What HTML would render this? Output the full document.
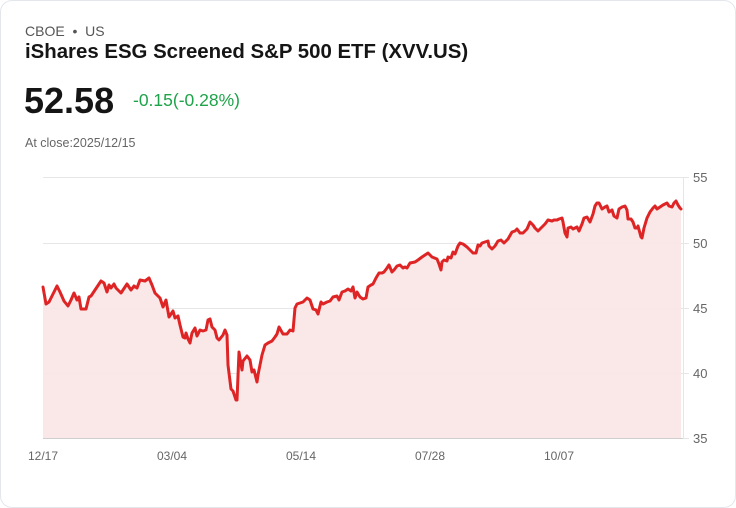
<!DOCTYPE html>
<html><head><meta charset="utf-8"><style>
html,body{margin:0;padding:0;background:#fff;}
body{width:736px;height:508px;overflow:hidden;font-family:"Liberation Sans",Arial,sans-serif;}
.card{position:absolute;left:0;top:0;width:734px;height:506px;border:1px solid #e3e6eb;border-radius:12px;background:#fff;}
.ex{position:absolute;left:25px;top:23px;font-size:14px;color:#555;}
.ttl{position:absolute;left:25px;top:41px;font-size:20.4px;font-weight:bold;color:#151515;}
.px{position:absolute;left:24px;top:80px;font-size:36px;font-weight:bold;color:#151515;}
.ch{position:absolute;left:133px;top:90px;font-size:17.5px;color:#1fa34a;}
.cl{position:absolute;left:25px;top:136px;font-size:12.5px;color:#666;}
svg{position:absolute;left:0;top:0;}
</style></head><body>
<div class="card"></div>
<div class="ex">CBOE &nbsp;•&nbsp; US</div>
<div class="ttl">iShares ESG Screened S&amp;P 500 ETF (XVV.US)</div>
<div class="px">52.58</div>
<div class="ch">-0.15(-0.28%)</div>
<div class="cl">At close:2025/12/15</div>
<svg width="736" height="508" viewBox="0 0 736 508">
<g stroke="#e6e6e6" stroke-width="1">
<line x1="43" y1="177.5" x2="683" y2="177.5"/>
<line x1="43" y1="243.5" x2="683" y2="243.5"/>
<line x1="43" y1="308.5" x2="683" y2="308.5"/>
<line x1="43" y1="373.5" x2="683" y2="373.5"/>
<line x1="683.5" y1="177" x2="683.5" y2="438"/>
<line x1="683" y1="177.5" x2="689" y2="177.5"/>
<line x1="683" y1="243.5" x2="689" y2="243.5"/>
<line x1="683" y1="308.5" x2="689" y2="308.5"/>
<line x1="683" y1="373.5" x2="689" y2="373.5"/>
<line x1="683" y1="438.5" x2="689" y2="438.5"/>
</g>
<polygon fill="#f9e4e4" fill-opacity="0.9" points="43,438 43,287 46,304 49,302 53,294 57,286 60,292 64,301 68,306 71,300 74,293 77,300 79,297 81,309 86,309 89,297 91,296 95,290 101,281 104,283 107,292 109,285 111,288 114,284 116,288 121,293 127,284 131,290 134,286 137,288 140,280 145,281 149,278 152,285 155,293 160,298 163,307 166,300 169,317 173,311 175,318 178,316 180,325 183,337 185,338 186,333 188,339 190,343 192,333 195,328 197,336 200,330 203,331 206,330 208,320 210,319 212,327 215,330 217,338 219,340 223,335 225,330 227,335 228,365 231,389 233,391 236,400 237,400 239,352 242,370 243,361 247,356 250,360 252,372 254,370 257,382 258,375 262,355 265,345 268,343 272,341 275,337 277,334 279,327 283,334 287,334 290,330 293,331 295,308 297,304 300,303 303,302 307,298 310,300 313,309 316,310 318,314 321,302 323,304 327,302 330,301 333,297 337,296 339,300 342,292 345,291 348,289 351,291 353,287 355,298 357,292 360,297 363,299 366,298 368,287 371,285 373,284 376,278 379,273 382,273 384,272 387,268 389,265 392,272 394,270 397,266 400,265 403,268 405,267 407,268 410,263 415,262 418,260 422,257 425,255 428,253 432,257 437,259 439,264 441,270 442,262 444,260 447,261 448,257 451,258 453,252 455,254 458,246 460,243 463,244 467,247 470,250 473,253 476,253 478,245 480,246 482,243 485,242 488,241 489,246 492,249 495,246 498,241 501,240 504,243 508,239 512,232 515,231 517,229 520,233 523,233 527,229 530,222 533,225 535,228 538,231 542,227 545,224 548,220 552,221 554,220 557,220 559,219 562,218 563,222 565,233 567,237 568,228 571,227 573,229 577,227 579,231 582,224 584,218 587,217 590,222 593,214 595,206 597,203 599,203 602,209 605,207 607,206 609,212 612,210 614,216 617,218 619,209 622,207 625,206 627,210 628,219 631,219 633,222 635,228 637,228 638,226 641,237 642,238 644,228 647,218 650,212 653,208 655,206 657,209 660,207 663,205 667,203 669,206 672,207 674,203 676,201 678,205 680,208 681,209 681,438"/>
<line x1="43" y1="438.5" x2="683" y2="438.5" stroke="#cfcfcf" stroke-width="1"/>
<polyline fill="none" stroke="#de2424" stroke-width="3" stroke-linejoin="round" stroke-linecap="round" points="43,287 46,304 49,302 53,294 57,286 60,292 64,301 68,306 71,300 74,293 77,300 79,297 81,309 86,309 89,297 91,296 95,290 101,281 104,283 107,292 109,285 111,288 114,284 116,288 121,293 127,284 131,290 134,286 137,288 140,280 145,281 149,278 152,285 155,293 160,298 163,307 166,300 169,317 173,311 175,318 178,316 180,325 183,337 185,338 186,333 188,339 190,343 192,333 195,328 197,336 200,330 203,331 206,330 208,320 210,319 212,327 215,330 217,338 219,340 223,335 225,330 227,335 228,365 231,389 233,391 236,400 237,400 239,352 242,370 243,361 247,356 250,360 252,372 254,370 257,382 258,375 262,355 265,345 268,343 272,341 275,337 277,334 279,327 283,334 287,334 290,330 293,331 295,308 297,304 300,303 303,302 307,298 310,300 313,309 316,310 318,314 321,302 323,304 327,302 330,301 333,297 337,296 339,300 342,292 345,291 348,289 351,291 353,287 355,298 357,292 360,297 363,299 366,298 368,287 371,285 373,284 376,278 379,273 382,273 384,272 387,268 389,265 392,272 394,270 397,266 400,265 403,268 405,267 407,268 410,263 415,262 418,260 422,257 425,255 428,253 432,257 437,259 439,264 441,270 442,262 444,260 447,261 448,257 451,258 453,252 455,254 458,246 460,243 463,244 467,247 470,250 473,253 476,253 478,245 480,246 482,243 485,242 488,241 489,246 492,249 495,246 498,241 501,240 504,243 508,239 512,232 515,231 517,229 520,233 523,233 527,229 530,222 533,225 535,228 538,231 542,227 545,224 548,220 552,221 554,220 557,220 559,219 562,218 563,222 565,233 567,237 568,228 571,227 573,229 577,227 579,231 582,224 584,218 587,217 590,222 593,214 595,206 597,203 599,203 602,209 605,207 607,206 609,212 612,210 614,216 617,218 619,209 622,207 625,206 627,210 628,219 631,219 633,222 635,228 637,228 638,226 641,237 642,238 644,228 647,218 650,212 653,208 655,206 657,209 660,207 663,205 667,203 669,206 672,207 674,203 676,201 678,205 680,208 681,209"/>
<g font-family="Liberation Sans, Arial, sans-serif" font-size="13" fill="#666">
<text x="693" y="182">55</text>
<text x="693" y="248">50</text>
<text x="693" y="313">45</text>
<text x="693" y="378">40</text>
<text x="693" y="443">35</text>
</g>
<g font-family="Liberation Sans, Arial, sans-serif" font-size="12" fill="#666" text-anchor="middle">
<text x="43" y="460">12/17</text>
<text x="172" y="460">03/04</text>
<text x="301" y="460">05/14</text>
<text x="430" y="460">07/28</text>
<text x="559" y="460">10/07</text>
</g>
</svg>
</body></html>
